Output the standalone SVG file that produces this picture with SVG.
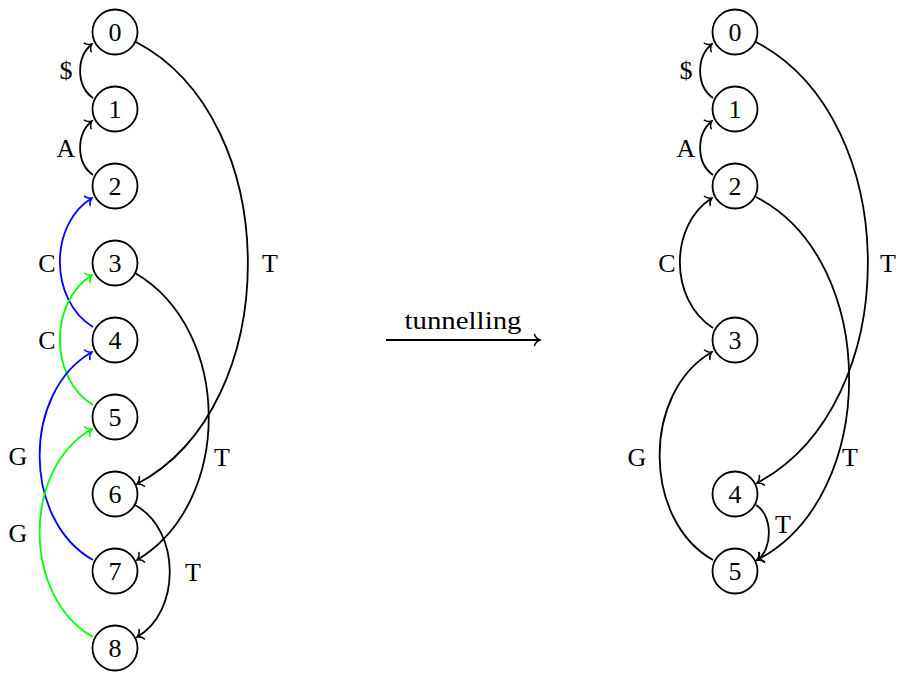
<svg xmlns="http://www.w3.org/2000/svg" width="898" height="675" viewBox="0 0 898 675">
<style>
.n circle{fill:#fff;stroke:#000;stroke-width:1.8}
text{font-family:"Liberation Serif","Times New Roman",serif;font-size:26px;text-anchor:middle;dominant-baseline:central;fill:#000}
.e path{fill:none;stroke-width:1.8}
.k{stroke:#000;marker-end:url(#ak)}
.b{stroke:#0000ff;marker-end:url(#ab)}
.g{stroke:#00ff00;marker-end:url(#ag)}
</style>
<defs>
<marker id="ak" markerUnits="userSpaceOnUse" viewBox="-7 -6 9 12" markerWidth="9" markerHeight="12" refX="0" refY="0" orient="auto" overflow="visible"><path d="M-5.5,-5.5 C-4.5,-2 -1.5,-0.6 0,0 C-1.5,0.6 -4.5,2 -5.5,5.5" fill="none" stroke="#000" stroke-width="1.5" stroke-linecap="round"/></marker>
<marker id="ab" markerUnits="userSpaceOnUse" viewBox="-7 -6 9 12" markerWidth="9" markerHeight="12" refX="0" refY="0" orient="auto" overflow="visible"><path d="M-5.5,-5.5 C-4.5,-2 -1.5,-0.6 0,0 C-1.5,0.6 -4.5,2 -5.5,5.5" fill="none" stroke="#0000ff" stroke-width="1.5" stroke-linecap="round"/></marker>
<marker id="ag" markerUnits="userSpaceOnUse" viewBox="-7 -6 9 12" markerWidth="9" markerHeight="12" refX="0" refY="0" orient="auto" overflow="visible"><path d="M-5.5,-5.5 C-4.5,-2 -1.5,-0.6 0,0 C-1.5,0.6 -4.5,2 -5.5,5.5" fill="none" stroke="#00ff00" stroke-width="1.5" stroke-linecap="round"/></marker>
</defs>
<g id="connectors" class="e">
<path class="k" d="M93,98 C76,86 76,57 92,44"/>
<path class="k" d="M93,175 C76,163 76,134 92,121"/>
<path class="b" d="M93,327 C49,300 49,224 92,198"/>
<path class="g" d="M93,405 C49,378 49,302 92,275"/>
<path class="b" d="M93,560 C22,520 22,392 92,352"/>
<path class="g" d="M93,637 C22,597 22,468 92,429"/>
<path class="k" d="M136,42 C285,120 285,406 137,484"/>
<path class="k" d="M135,273 C233,330 233,503 137,560"/>
<path class="k" d="M135,505 C181,530 181,612 137,637"/>
<path class="k" d="M713,98 C696,86 696,57 712,44"/>
<path class="k" d="M713,175 C696,163 696,134 712,121"/>
<path class="k" d="M713,328 C669,300 669,225 712,198"/>
<path class="k" d="M713,560 C642,520 642,392 712,352"/>
<path class="k" d="M756,42 C905,120 905,405 757,483"/>
<path class="k" d="M756,197 C880,260 880,497 757,560"/>
<path class="k" d="M756,505 C773,515 773,550 757,560"/>
<path class="k" d="M386,340 L540,340"/>
</g>
<g id="labels">
<text x="66" y="70">$</text>
<text x="66" y="148">A</text>
<text x="47" y="263">C</text>
<text x="47" y="340">C</text>
<text x="18" y="456">G</text>
<text x="18" y="533">G</text>
<text x="270" y="263">T</text>
<text x="222" y="457">T</text>
<text x="193" y="572">T</text>
<text x="686" y="70">$</text>
<text x="686" y="148">A</text>
<text x="667" y="263">C</text>
<text x="637" y="457">G</text>
<text x="888" y="263">T</text>
<text x="850" y="457">T</text>
<text x="783" y="524">T</text>
<text x="463" y="320" textLength="117" lengthAdjust="spacingAndGlyphs">tunnelling</text>
</g>
<g id="n0" class="n"><circle cx="115" cy="32" r="22.5"/><text x="115" y="32">0</text></g>
<g id="n1" class="n"><circle cx="115" cy="109" r="22.5"/><text x="115" y="109">1</text></g>
<g id="n2" class="n"><circle cx="115" cy="186" r="22.5"/><text x="115" y="186">2</text></g>
<g id="n3" class="n"><circle cx="115" cy="263" r="22.5"/><text x="115" y="263">3</text></g>
<g id="n4" class="n"><circle cx="115" cy="340" r="22.5"/><text x="115" y="340">4</text></g>
<g id="n5" class="n"><circle cx="115" cy="417" r="22.5"/><text x="115" y="417">5</text></g>
<g id="n6" class="n"><circle cx="115" cy="494" r="22.5"/><text x="115" y="494">6</text></g>
<g id="n7" class="n"><circle cx="115" cy="571" r="22.5"/><text x="115" y="571">7</text></g>
<g id="n8" class="n"><circle cx="115" cy="648" r="22.5"/><text x="115" y="648">8</text></g>
<g id="m0" class="n"><circle cx="735" cy="32" r="22.5"/><text x="735" y="32">0</text></g>
<g id="m1" class="n"><circle cx="735" cy="109" r="22.5"/><text x="735" y="109">1</text></g>
<g id="m2" class="n"><circle cx="735" cy="186" r="22.5"/><text x="735" y="186">2</text></g>
<g id="m3" class="n"><circle cx="735" cy="340" r="22.5"/><text x="735" y="340">3</text></g>
<g id="m4" class="n"><circle cx="735" cy="494" r="22.5"/><text x="735" y="494">4</text></g>
<g id="m5" class="n"><circle cx="735" cy="571" r="22.5"/><text x="735" y="571">5</text></g>
</svg>
